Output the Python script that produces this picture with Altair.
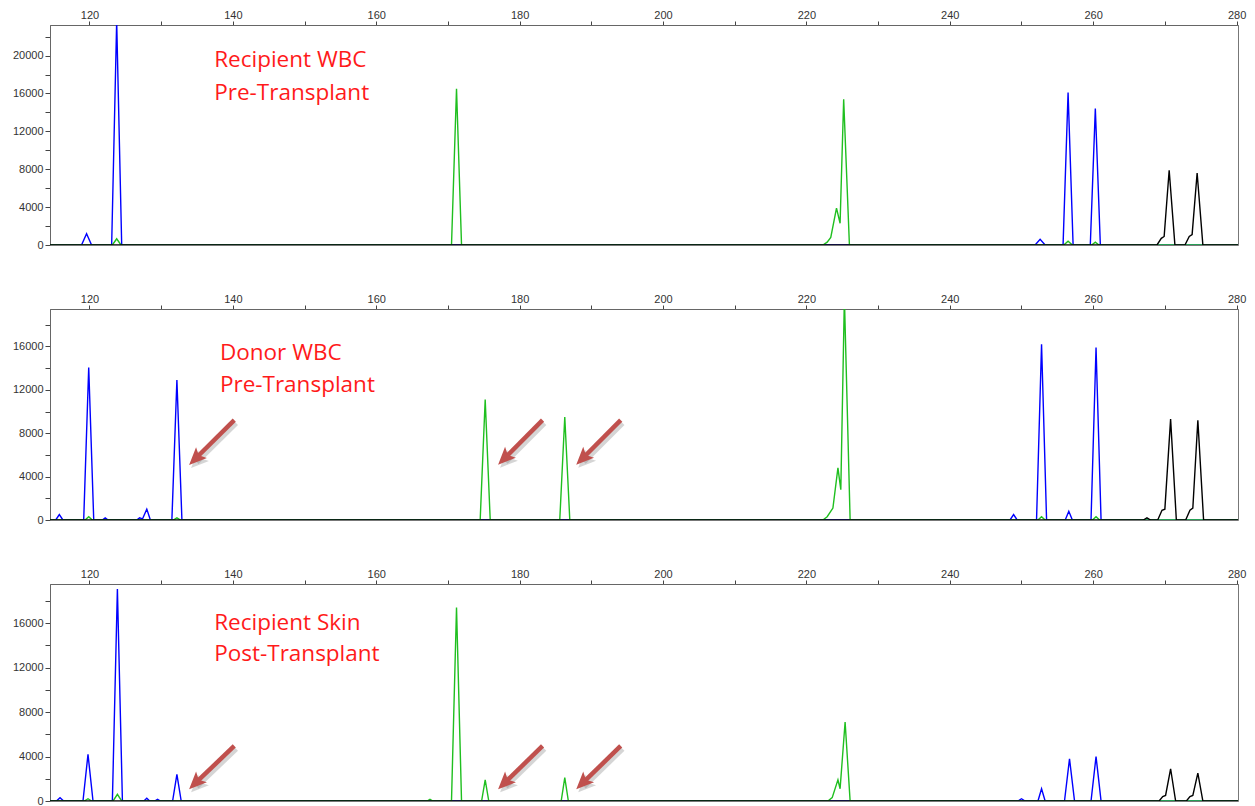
import altair as alt
import pandas as pd

X_MIN, X_MAX = 114.5, 280.2

# ---------------- Panel 1: Recipient WBC Pre-Transplant ----------------
p1_blue_x = [114.5, 118.9, 119.6, 120.3, 123.1, 123.8, 124.5, 251.9, 252.6, 253.3,
             255.8, 256.5, 257.2, 259.6, 260.3, 261.0, 280.2]
p1_blue_y = [0, 0, 1200, 0, 0, 23600, 0, 0, 600, 0, 0, 16100, 0, 0, 14400, 0, 0]
p1_green_x = [114.5, 123.2, 123.8, 124.4, 170.5, 171.2, 171.9, 222.3, 222.9, 223.4,
              224.2, 224.7, 225.2, 226.0, 255.9, 256.5, 257.1, 259.8, 260.3, 260.8, 280.2]
p1_green_y = [0, 0, 650, 0, 0, 16500, 0, 0, 300, 800, 3900, 2300, 15400, 0, 0, 400, 0,
              0, 300, 0, 0]
p1_black_x = [114.5, 268.9, 269.5, 269.9, 270.6, 271.4, 272.8, 273.4, 273.8, 274.5, 275.3, 280.2]
p1_black_y = [0, 0, 700, 900, 7900, 0, 0, 900, 1100, 7600, 0, 0]
p1_label_x = [137.4, 137.4]
p1_label_y = [18830, 15310]
p1_label_text = ["Recipient WBC", "Pre-Transplant"]

# ---------------- Panel 2: Donor WBC Pre-Transplant ----------------
p2_blue_x = [114.5, 115.3, 115.8, 116.3, 119.2, 119.9, 120.6, 121.8, 122.2, 122.6,
             126.6, 127.0, 127.4, 128.0, 128.5, 131.5, 132.2, 132.9, 248.4, 248.9,
             249.4, 252.1, 252.8, 253.5, 256.1, 256.6, 257.1, 259.7, 260.4, 261.1, 280.2]
p2_blue_y = [0, 0, 500, 0, 0, 14050, 0, 0, 200, 0, 0, 200, 100, 1000, 0, 0, 12900, 0,
             0, 500, 0, 0, 16200, 0, 0, 800, 0, 0, 15900, 0, 0]
p2_green_x = [114.5, 119.4, 119.9, 120.4, 131.7, 132.2, 132.7, 174.5, 175.2, 175.9,
              185.6, 186.3, 187.0, 222.3, 222.9, 223.7, 224.4, 224.8, 225.3, 226.1,
              252.3, 252.8, 253.3, 259.9, 260.4, 260.9, 280.2]
p2_green_y = [0, 0, 300, 0, 0, 200, 0, 0, 11100, 0, 0, 9500, 0, 0, 300, 1100, 4800,
              2800, 20500, 0, 0, 300, 0, 0, 300, 0, 0]
p2_black_x = [114.5, 267.0, 267.5, 268.0, 269.0, 269.6, 270.0, 270.8, 271.6, 272.9,
              273.5, 273.9, 274.6, 275.4, 280.2]
p2_black_y = [0, 0, 200, 0, 0, 900, 1000, 9300, 0, 0, 900, 1100, 9200, 0, 0]
p2_label_x = [138.2, 138.2]
p2_label_y = [14750, 11830]
p2_label_text = ["Donor WBC", "Pre-Transplant"]
p2_arrow_tail_x = [140.2, 183.2, 194.1]
p2_arrow_tail_y = [9200, 9200, 9200]
p2_arrow_end_x = [134.7, 177.8, 188.7]
p2_arrow_end_y = [5600, 5620, 5620]
p2_arrow_tip_x = [133.9, 177.0, 187.9]
p2_arrow_tip_y = [5070, 5100, 5100]

# ---------------- Panel 3: Recipient Skin Post-Transplant ----------------
p3_blue_x = [114.5, 115.4, 115.9, 116.4, 119.1, 119.8, 120.5, 123.2, 123.9, 124.6,
             127.6, 128.0, 128.4, 129.1, 129.5, 129.9, 131.6, 132.2, 132.8, 249.5,
             250.0, 250.5, 252.3, 252.8, 253.3, 256.0, 256.7, 257.4, 259.7, 260.4,
             261.1, 280.2]
p3_blue_y = [0, 0, 300, 0, 0, 4200, 0, 0, 19070, 0, 0, 250, 0, 0, 150, 0, 0, 2400, 0,
             0, 200, 0, 0, 1100, 0, 0, 3800, 0, 0, 4000, 0, 0]
p3_green_x = [114.5, 119.3, 119.8, 120.3, 123.3, 123.9, 124.5, 167.1, 167.5, 167.9,
              170.5, 171.2, 171.9, 174.7, 175.2, 175.7, 185.8, 186.3, 186.8, 223.0,
              223.6, 224.4, 224.7, 225.4, 226.1, 280.2]
p3_green_y = [0, 0, 200, 0, 0, 600, 0, 0, 150, 0, 0, 17400, 0, 0, 1900, 0, 0, 2100, 0,
              0, 300, 1900, 1100, 7100, 0, 0]
p3_black_x = [114.5, 269.2, 269.7, 270.1, 270.8, 271.5, 273.0, 273.5, 273.9, 274.6, 275.3, 280.2]
p3_black_y = [0, 0, 400, 500, 2900, 0, 0, 400, 500, 2500, 0, 0]
p3_label_x = [137.4, 137.4]
p3_label_y = [15380, 12610]
p3_label_text = ["Recipient Skin", "Post-Transplant"]
p3_arrow_tail_x = [140.2, 183.2, 194.1]
p3_arrow_tail_y = [4950, 4950, 4950]
p3_arrow_end_x = [134.7, 177.8, 188.7]
p3_arrow_end_y = [1560, 1560, 1560]
p3_arrow_tip_x = [133.9, 177.0, 187.9]
p3_arrow_tip_y = [1050, 1050, 1050]

x_tick_values = list(range(120, 281, 10))

COLORS = {"blue": "#0000ff", "green": "#1fbf1f", "black": "#000000"}
ARROW_COLOR = "#c0504d"
HEAD_PATH = "M0,0 L-0.7,1.6 L0,1.25 L0.7,1.6 Z"


def panel(traces, ymax, ytick_max, height, lab_x, lab_y, lab_text, arrows=None):
    xsc = alt.Scale(domain=[X_MIN, X_MAX], nice=False, zero=False)
    ysc = alt.Scale(domain=[0, ymax], nice=False, zero=True)
    xaxis = alt.Axis(orient="top", values=x_tick_values, format="d",
                     labelExpr="datum.value % 20 == 0 ? datum.label : ''",
                     grid=False, tickSize=4, labelPadding=1, title=None,
                     labelFlush=False, labelOverlap=False)
    yaxis = alt.Axis(values=list(range(0, ytick_max + 1, 2000)), format="d",
                     labelExpr="datum.value % 4000 == 0 ? datum.label : ''",
                     grid=False, tickSize=5, labelPadding=2, title=None,
                     labelOverlap=False, labelFlush=False)
    layers = []
    for xs, ys, col in traces:
        df = pd.DataFrame({"x": xs, "y": ys, "i": list(range(len(xs)))})
        layers.append(
            alt.Chart(df).mark_line(color=COLORS[col], strokeWidth=1.4, clip=True,
                                    interpolate="linear")
            .encode(x=alt.X("x:Q", scale=xsc, axis=xaxis),
                    y=alt.Y("y:Q", scale=ysc, axis=yaxis),
                    order="i:Q")
        )
    lab = pd.DataFrame({"x": lab_x, "y": lab_y, "t": lab_text})
    layers.append(
        alt.Chart(lab).mark_text(align="left", baseline="alphabetic", font="Open Sans",
                                 fontSize=22.5, color="#ff1a1a")
        .encode(x=alt.X("x:Q", scale=xsc, axis=xaxis),
                y=alt.Y("y:Q", scale=ysc, axis=yaxis), text="t:N")
    )
    if arrows is not None:
        tx, ty, ex, ey, px, py = arrows
        adf = pd.DataFrame({"tx": tx, "ty": ty, "ex": ex, "ey": ey, "px": px, "py": py})
        # soft shadow
        layers.append(
            alt.Chart(adf).mark_rule(color="#888888", opacity=0.35, strokeWidth=5,
                                     strokeCap="butt", xOffset=2, yOffset=3,
                                     x2Offset=2, y2Offset=3)
            .encode(x=alt.X("tx:Q", scale=xsc, axis=xaxis),
                    y=alt.Y("ty:Q", scale=ysc, axis=yaxis),
                    x2="ex:Q", y2="ey:Q")
        )
        layers.append(
            alt.Chart(adf).mark_point(shape=HEAD_PATH, size=480, angle=225, filled=True,
                                      color="#888888", opacity=0.35, strokeWidth=0,
                                      xOffset=2, yOffset=3)
            .encode(x=alt.X("px:Q", scale=xsc, axis=xaxis),
                    y=alt.Y("py:Q", scale=ysc, axis=yaxis))
        )
        layers.append(
            alt.Chart(adf).mark_rule(color=ARROW_COLOR, strokeWidth=4.5, strokeCap="butt")
            .encode(x=alt.X("tx:Q", scale=xsc, axis=xaxis),
                    y=alt.Y("ty:Q", scale=ysc, axis=yaxis),
                    x2="ex:Q", y2="ey:Q")
        )
        layers.append(
            alt.Chart(adf).mark_point(shape=HEAD_PATH, size=480, angle=225, filled=True,
                                      color=ARROW_COLOR, opacity=1, strokeWidth=0)
            .encode(x=alt.X("px:Q", scale=xsc, axis=xaxis),
                    y=alt.Y("py:Q", scale=ysc, axis=yaxis))
        )
    return alt.layer(*layers).properties(width=1188, height=height)


c1 = panel([(p1_blue_x, p1_blue_y, "blue"), (p1_green_x, p1_green_y, "green"),
            (p1_black_x, p1_black_y, "black")],
           23230, 22000, 220, p1_label_x, p1_label_y, p1_label_text)
c2 = panel([(p2_blue_x, p2_blue_y, "blue"), (p2_green_x, p2_green_y, "green"),
            (p2_black_x, p2_black_y, "black")],
           19450, 18000, 211, p2_label_x, p2_label_y, p2_label_text,
           (p2_arrow_tail_x, p2_arrow_tail_y, p2_arrow_end_x, p2_arrow_end_y,
            p2_arrow_tip_x, p2_arrow_tip_y))
c3 = panel([(p3_blue_x, p3_blue_y, "blue"), (p3_green_x, p3_green_y, "green"),
            (p3_black_x, p3_black_y, "black")],
           19520, 18000, 217, p3_label_x, p3_label_y, p3_label_text,
           (p3_arrow_tail_x, p3_arrow_tail_y, p3_arrow_end_x, p3_arrow_end_y,
            p3_arrow_tip_x, p3_arrow_tip_y))

chart = alt.vconcat(c1, c2, c3, spacing=41).properties(
    padding={"left": 3, "top": 0, "right": 0, "bottom": 0}
).configure_view(stroke="#777", strokeWidth=1).configure_axis(
    domainColor="#666", tickColor="#444", labelColor="#333",
    labelFont="Liberation Sans", labelFontSize=11
)

chart.save("out.html", embed_options={"renderer": "svg", "actions": False})
